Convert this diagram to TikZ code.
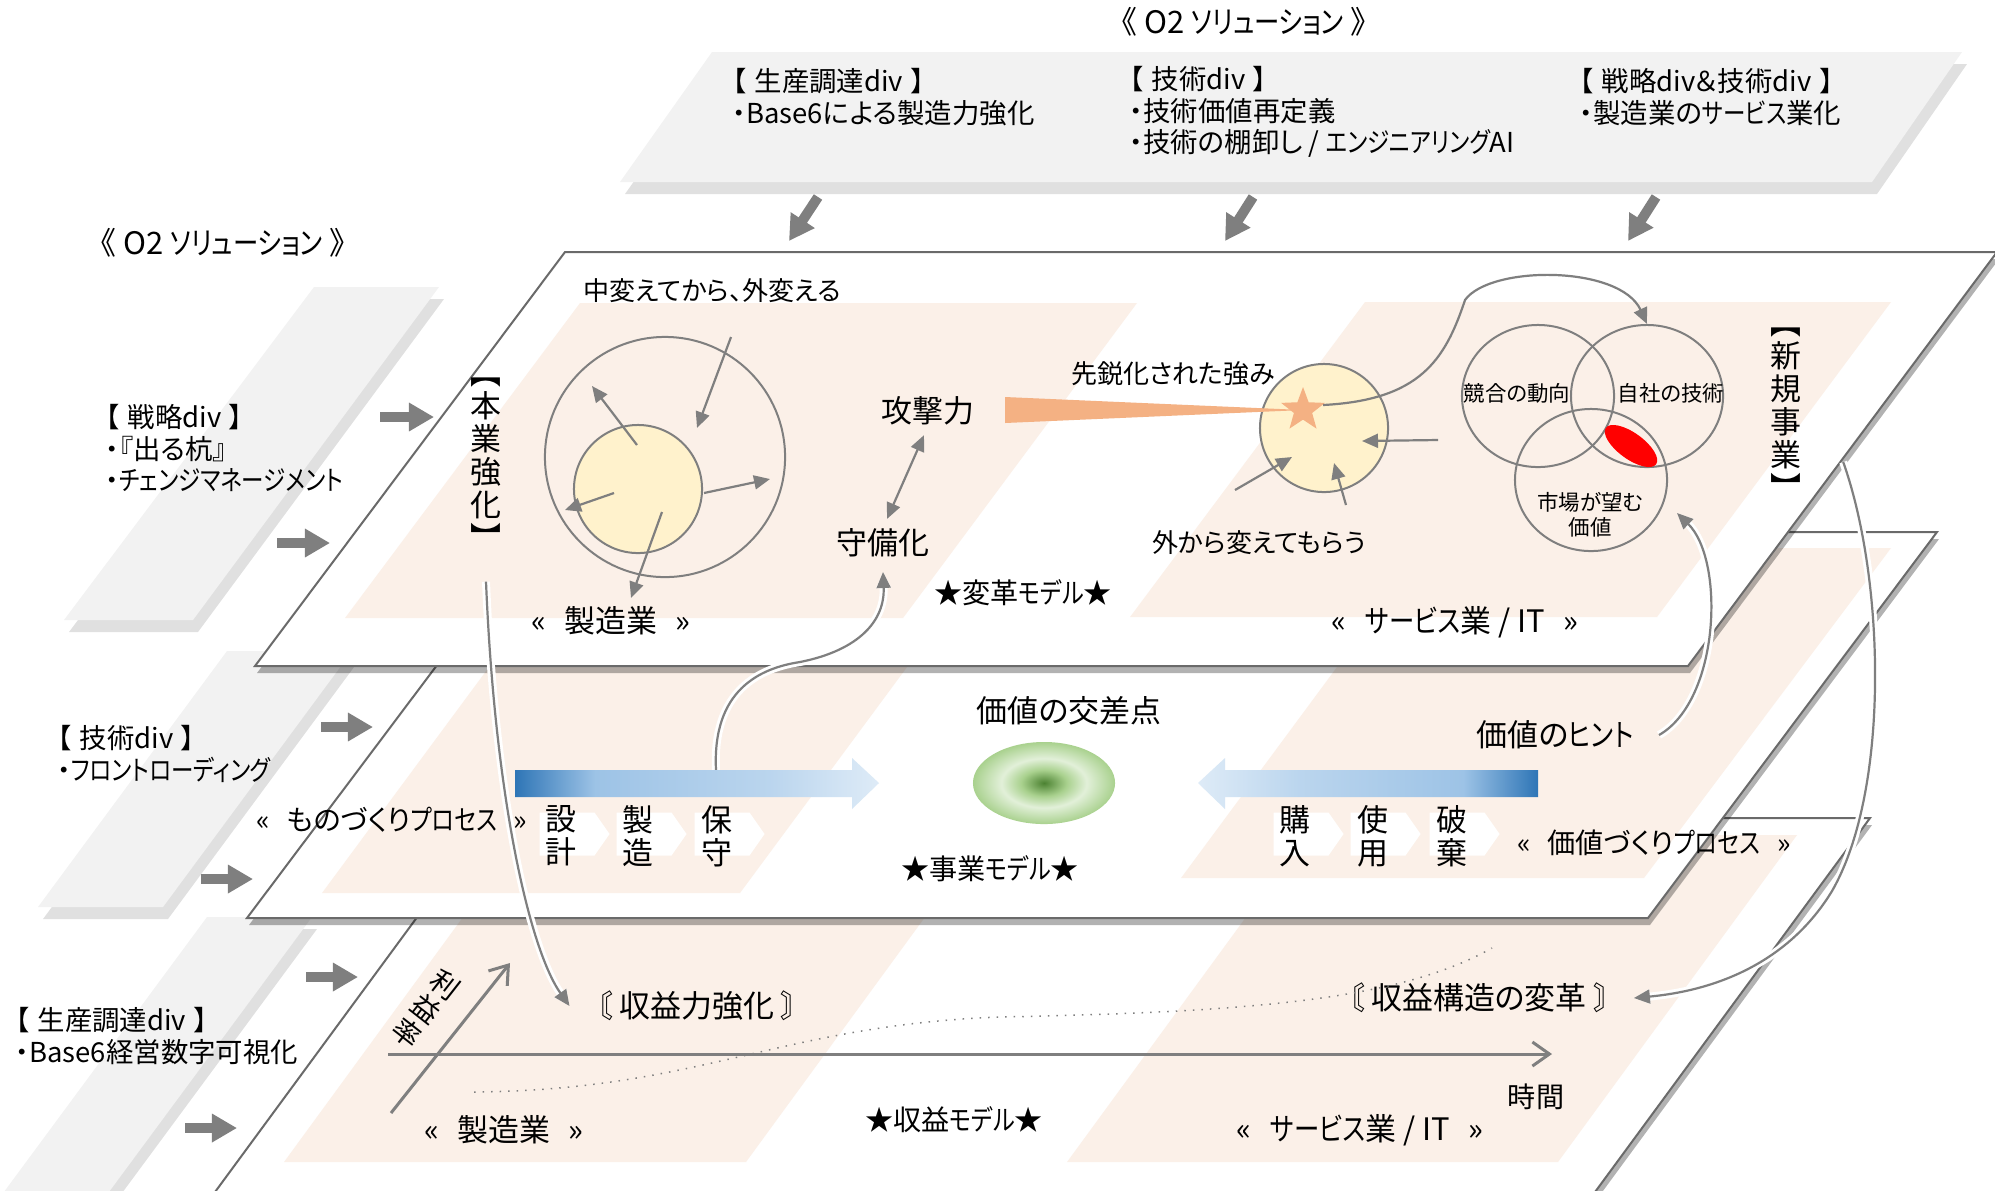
\documentclass[tikz,border=0pt]{standalone}
\usepackage{fontspec}
\setmainfont{Noto Sans CJK JP}[RawFeature=+palt]
\newfontfamily\kanajp{Noto Sans CJK JP}[RawFeature=+palt, FakeStretch=0.82]
\usepackage{tikz}
\usetikzlibrary{
  arrows.meta,
  shapes.geometric,
  shapes.symbols,
  shadows,
}
\definecolor{peach}{HTML}{FBF0E8}
\definecolor{panelgray}{HTML}{F2F2F2}
\definecolor{linegray}{HTML}{7F7F7F}
\definecolor{edgegray}{HTML}{6A6A6A}
\definecolor{coreyellow}{HTML}{FFF2CC}
\definecolor{wedge}{HTML}{F4B183}
\definecolor{blueA}{HTML}{2E75B6}
\definecolor{blueB}{HTML}{9DC3E6}
\definecolor{blueC}{HTML}{DEEBF7}
\colorlet{blueBC}{blueB!55!blueC}
\definecolor{greenA}{HTML}{4C8232}
\definecolor{greenB}{HTML}{E2F0D9}
\definecolor{greenC}{HTML}{A9D18E}

\newcommand{\szL}{\fontsize{8.8pt}{9.4pt}\selectfont}
\newcommand{\szN}{\fontsize{8.0pt}{8.7pt}\selectfont}
\newcommand{\szM}{\fontsize{7.4pt}{8.6pt}\selectfont}
\newcommand{\szP}{\fontsize{7.8pt}{9pt}\selectfont}
\newcommand{\szS}{\fontsize{6.1pt}{7pt}\selectfont}
\newcommand{\gapsp}{\hspace{0.6em}}
\newcommand{\bsp}{\hspace{0.3em}}
\newcommand{\kana}[1]{{\kanajp #1}}

\pgfdeclarehorizontalshading{flowright}{100bp}{color(0bp)=(blueA); color(25bp)=(blueA);
  color(36bp)=(blueB); color(60bp)=(blueBC); color(75bp)=(blueC); color(100bp)=(blueC)}
\pgfdeclarehorizontalshading{flowleft}{100bp}{color(0bp)=(blueC); color(25bp)=(blueC);
  color(40bp)=(blueBC); color(64bp)=(blueB); color(75bp)=(blueA); color(100bp)=(blueA)}
\pgfdeclareradialshading{crosspoint}{\pgfpointorigin}{color(0bp)=(greenA);
  color(8bp)=(greenC); color(15bp)=(greenB); color(25bp)=(greenC); color(50bp)=(greenC)}

\tikzset{
  plane/.style = {
    draw = edgegray,
    line width = 0.02cm,
    fill = white,
    drop shadow = {shadow xshift = 0.02cm, shadow yshift = -0.07cm,
      opacity = .3, fill = black}
  },
  zone/.style = {
    fill = peach
  },
  panel/.style = {
    fill = panelgray,
    drop shadow = {shadow xshift = 0.05cm, shadow yshift = -0.12cm,
      opacity = .12, fill = black}
  },
  feed/.style = {
    draw = linegray,
    line width = 0.1cm,
    -{Triangle[length = 0.25cm, width = 0.27cm]}
  },
  thin/.style = {
    draw = linegray,
    line width = 0.022cm,
    -{Triangle[length = 0.16cm, width = 0.14cm]}
  },
  duo/.style = {
    thin,
    {Triangle[length = 0.16cm, width = 0.14cm]}-{Triangle[length = 0.16cm, width = 0.14cm]}
  },
  link/.style = {
    thin,
    preaction = {draw = white, line width = 0.08cm}
  },
  axis/.style = {
    draw = linegray,
    line width = 0.03cm,
    -{Straight Barb[length = 0.17cm, width = 0.24cm]}
  },
  ring/.style = {
    circle,
    draw = linegray,
    line width = 0.02cm,
    inner sep = 0pt
  },
  venn/.style = {
    ellipse,
    draw = linegray,
    line width = 0.02cm,
    minimum width = 1.52cm,
    minimum height = 1.42cm,
    inner sep = 0pt
  },
  stepbox/.style = {
    signal,
    signal to = east,
    signal pointer angle = 110,
    fill = white,
    minimum width = 0.70cm,
    minimum height = 0.43cm,
    inner sep = 0pt
  },
  txt/.style = {inner sep = 0pt, font = \szL},
  ntxt/.style = {inner sep = 0pt, font = \szN},
  mtxt/.style = {inner sep = 0pt, font = \szM},
  stxt/.style = {inner sep = 0pt, font = \szS, align = center},
  memo/.style = {inner sep = 0pt, font = \szP, align = left, anchor = west},
  tate/.style = {inner sep = 0pt, font = \szL, align = center},
}

\begin{document}
\begin{tikzpicture}[x = 0.01cm, y = -0.01cm]
  \useasboundingbox (0,0) rectangle (1995,1190);
  \clip (0,0) rectangle (1995,1190);

  % O2 banner and the division panels
  \path[panel] (712,52) -- (1962,52) -- (1872,182) -- (620,182) -- cycle;
  \path[panel] (314,287) -- (439,287) -- (193,620) -- (64,620) -- cycle;
  \path[panel] (227,651) -- (352,651) -- (163,907) -- (38,907) -- cycle;
  \path[panel] (207,917) -- (312,917) -- (103,1200) -- (-2,1200) -- cycle;

  % three layers, bottom first
  \path[plane] (490,818) -- (1870,818) -- (1570,1226) -- (190,1226) -- cycle;
  \path[zone] (523,835) -- (985,835) -- (746,1162) -- (284,1162) -- cycle;
  \path[zone] (1306,835) -- (1797,835) -- (1558,1162) -- (1067,1162) -- cycle;
  \path[plane] (537,532) -- (1937,532) -- (1648,918) -- (247,918) -- cycle;
  \path[zone] (577,548) -- (995,548) -- (740,893) -- (322,893) -- cycle;
  \path[zone] (1425,548) -- (1891,548) -- (1644,878) -- (1181,878) -- cycle;
  \path[plane] (565,252) -- (1997,252) -- (1688,666) -- (255,666) -- cycle;
  \path[zone] (580,303) -- (1137,303) -- (903,618) -- (345,618) -- cycle;
  \path[zone] (1365,302) -- (1891,302) -- (1657,617) -- (1130,617) -- cycle;

  % labels of the banner and panels
  \node[txt] (sol) at (1244,22) {《 O2 \kana{ソリューション} 》};
  \node[txt] (solleft) at (223,243) {《 O2 \kana{ソリューション} 》};
  \node[memo] (buy) at (732,97) {【\bsp 生産調達div\bsp 】\\・Base6による製造力強化};
  \node[memo] (tech) at (1129,112)
    {【\bsp 技術div\bsp 】\\・技術価値再定義\\・技術の棚卸し / \kana{エンジニアリング}AI};
  \node[memo] (strat) at (1579,97)
    {【\bsp 戦略div＆技術div\bsp 】\\・製造業の\kana{サービス}業化};
  \node[memo] (stratleft) at (105,448)
    {【\bsp 戦略div\bsp 】\\・『出る杭』\\・\kana{チェンジマネージメント}};
  \node[memo] (techleft) at (57,754) {【\bsp 技術div\bsp 】\\・\kana{フロントローディング}};
  \node[memo] (buyleft) at (15,1036) {【\bsp 生産調達div\bsp 】\\・Base6経営数字可視化};

  \draw[feed] (818,197) -- (789,241);
  \draw[feed] (1253,197) -- (1225,241);
  \draw[feed] (1656,197) -- (1628,241);
  \draw[feed] (380,417) -- (434,417);
  \draw[feed] (277,543) -- (330,543);
  \draw[feed] (321,727) -- (373,727);
  \draw[feed] (201,879) -- (253,879);
  \draw[feed] (306,977) -- (358,977);
  \draw[feed] (185,1128) -- (237,1128);

  % top layer: change model
  \node[tate] (hongyo) at (486,464) {︻\\本\\業\\強\\化\\︼};
  \node[tate] (shinki) at (1786,414) {︻\\新\\規\\事\\業\\︼};
  \node[txt] (gain) at (697,1006) {〘 収益力強化 〙};
  \node[txt] (reform) at (1479,998) {〘 収益構造の変革 〙};
  \node[txt] (atk) at (928,411) {攻撃力};
  \node[txt] (def) at (883,543) {守備化};
  \node[txt] (hint) at (1555,735) {価値の\kana{ヒント}};
  \coordinate (flowtop) at (716,770);
  \coordinate (marketside) at (1677,513);

  \draw[link] ([yshift = -0.31cm]hongyo.south) .. controls (495,800) and (530,950)
    .. ([xshift = -0.27cm]gain.west);
  \draw[link] (flowtop) .. controls (712,690) and (760,668) .. (800,662)
    .. controls (860,650) and (885,620) .. ([yshift = -0.14cm]def.south);
  \draw[link] ([xshift = 0.25cm]hint.east) .. controls (1720,700) and (1725,560)
    .. (marketside);
  \draw[link] ([xshift = 0.41cm, yshift = -0.48cm]shinki.east)
    .. controls (1885,580) and (1890,790) .. (1832,891)
    .. controls (1790,960) and (1720,990) .. ([xshift = 0.24cm]reform.east);

  \node[mtxt] (motto) at (712,291) {中変えてから、外変える};
  \node[ring, minimum size = 2.4cm] (shell) at (665,457) {};
  \node[ring, fill = coreyellow, minimum size = 1.28cm] (core) at (638,489) {};
  \draw[thin] (637,445) -- (592,386);
  \draw[thin] (731,337) -- (697,428);
  \draw[thin] (614,493) -- (565,510);
  \draw[thin] (704,493) -- (770,479);
  \draw[thin] (662,512) -- (631,598);
  \node[txt] (mfgtop) at (611,621) {«\gapsp 製造業\gapsp »};
  \draw[duo, shorten <= 0.1cm, shorten >= 0.1cm] (atk.south) -- (def.north);
  \node[ntxt] (changemodel) at (1023,593) {★変革\kana{モデル}★};

  \node[mtxt] (sharp) at (1173,374) {先鋭化された強み};
  \node[ring, fill = coreyellow, minimum size = 1.28cm] (edge) at (1324,428) {};
  \fill[wedge] (1005,397) -- (1303,410) -- (1005,423) -- cycle;
  \node[star, star points = 5, star point ratio = 2.4, fill = wedge,
    minimum size = 0.46cm, inner sep = 0pt] (spark) at (1303,410) {};
  \draw[thin] (1438,440) -- (1362,441);
  \draw[thin] (1235,490) -- (1292,457);
  \draw[thin] (1346,505) -- (1334,463);
  \node[mtxt] (outside) at (1259,543) {外から変えてもらう};

  \node[venn] (rival) at (1538,396) {};
  \node[venn] (own) at (1647,396) {};
  \node[venn] (market) at (1591,480) {};
  \fill[red, rotate around = {-36:(1631,446)}] (1631,446)
    ellipse [x radius = 0.31cm, y radius = 0.13cm];
  \node[stxt] (rivaltxt) at (1517,393) {競合の動向};
  \node[stxt] (owntxt) at (1671,393) {自社の技術};
  \node[stxt] (markettxt) at (1590,515) {市場が望む\\価値};
  \draw[thin] ([xshift = 0.2cm, yshift = 0.05cm]spark.center)
    .. controls (1420,400) and (1445,360) .. (1465,300)
    .. controls (1490,265) and (1620,265) .. (own.north);
  \node[txt] (svctop) at (1455,622) {«\gapsp \kana{サービス}業 / IT\gapsp »};

  % middle layer: business model
  \node[txt] (crossing) at (1069,711) {価値の交差点};
  \node[ellipse, shading = crosspoint, minimum width = 1.42cm,
    minimum height = 0.82cm, inner sep = 0pt] (cross) at (1044,783) {};
  \node[ntxt] (bizmodel) at (990,869) {★事業\kana{モデル}★};
  \path[shading = flowright] (515,770) -- (852,770) -- (852,758) -- (879,783)
    -- (852,809) -- (852,797) -- (515,797) -- cycle;
  \path[shading = flowleft] (1538,770) -- (1225,770) -- (1225,758) -- (1198,783)
    -- (1225,809) -- (1225,797) -- (1538,797) -- cycle;

  \node[stepbox] (design) at (567,834) {};
  \node[stepbox] (produce) at (644,834) {};
  \node[stepbox] (keep) at (722,834) {};
  \node[stepbox] (purchase) at (1301,834) {};
  \node[stepbox] (use) at (1378,834) {};
  \node[stepbox] (discard) at (1457,834) {};
  \node[tate] (designtxt) at (561,836) {設\\計};
  \node[tate] (producetxt) at (638,836) {製\\造};
  \node[tate] (keeptxt) at (717,836) {保\\守};
  \node[tate] (purchasetxt) at (1295,836) {購\\入};
  \node[tate] (usetxt) at (1373,836) {使\\用};
  \node[tate] (discardtxt) at (1452,836) {破\\棄};
  \node[ntxt] (makeproc) at (392,820) {«\gapsp ものづくり\kana{プロセス}\gapsp »};
  \node[ntxt] (valueproc) at (1654,843) {«\gapsp 価値づくり\kana{プロセス}\gapsp »};

  % bottom layer: profit model
  \coordinate (t0) at (388,1054);
  \coordinate (t1) at (1552,1054);
  \coordinate (m0) at (391,1113);
  \coordinate (m1) at (510,963);
  \draw[axis] (t0) -- (t1);
  \draw[axis] (m0) -- (m1);
  \node[tate, font = \szN, rotate = -38] (margin) at (426,1009) {利\\益\\率};
  \node[ntxt] (time) at (1536,1097) {時間};
  \draw[linegray, line width = 0.015cm, dotted] (474,1092)
    .. controls (700,1090) and (780,1025) .. (1000,1017)
    .. controls (1250,1012) and (1400,1000) .. (1492,948);
  \node[txt] (mfgbot) at (504,1130) {«\gapsp 製造業\gapsp »};
  \node[ntxt] (revmodel) at (954,1120) {★収益\kana{モデル}★};
  \node[txt] (svcbot) at (1360,1130) {«\gapsp \kana{サービス}業 / IT\gapsp »};
\end{tikzpicture}
\end{document}
